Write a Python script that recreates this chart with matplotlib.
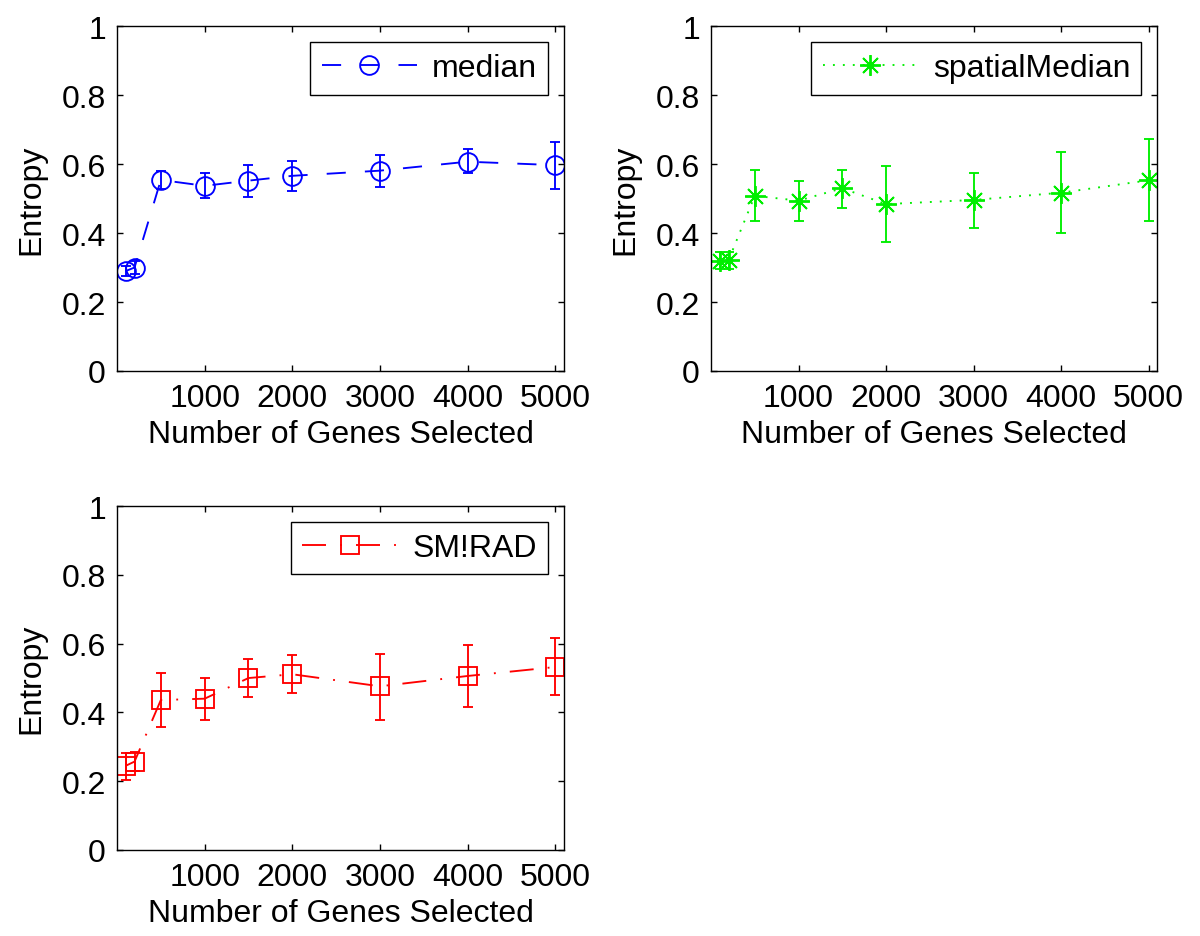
import matplotlib
matplotlib.use('Agg')
import matplotlib.pyplot as plt
from matplotlib.lines import Line2D

plt.rcParams['font.family'] = ['Liberation Sans', 'DejaVu Sans']
plt.rcParams['font.size'] = 23

genes = [100, 200, 500, 1000, 1500, 2000, 3000, 4000, 5000]

median_y = [0.290, 0.300, 0.554, 0.537, 0.552, 0.566, 0.581, 0.607, 0.597]
median_hi = [0.305, 0.318, 0.581, 0.573, 0.597, 0.610, 0.627, 0.644, 0.665]
median_lo = [0.275, 0.282, 0.528, 0.501, 0.506, 0.521, 0.534, 0.574, 0.528]

spatial_y = [0.318, 0.321, 0.508, 0.494, 0.530, 0.484, 0.496, 0.517, 0.553]
spatial_hi = [0.344, 0.346, 0.583, 0.552, 0.584, 0.595, 0.575, 0.634, 0.673]
spatial_lo = [0.295, 0.296, 0.436, 0.436, 0.474, 0.375, 0.414, 0.400, 0.436]

smirad_y = [0.245, 0.257, 0.436, 0.440, 0.500, 0.511, 0.476, 0.506, 0.532]
smirad_hi = [0.281, 0.284, 0.515, 0.500, 0.556, 0.566, 0.569, 0.596, 0.615]
smirad_lo = [0.204, 0.231, 0.357, 0.378, 0.444, 0.457, 0.379, 0.417, 0.450]

x_ticks = [1000, 2000, 3000, 4000, 5000]
y_ticks = [0, 0.2, 0.4, 0.6, 0.8, 1]
y_ticklabels = ['0', '0.2', '0.4', '0.6', '0.8', '1']

lw = 1.35
dashed = (0, (10.2, 10.2))
dotted = (0, (1.0, 4.3))
dashdot = (0, (12.8, 7.5, 1.0, 7.5))

fig = plt.figure(figsize=(12, 9.37), dpi=100)

panels = [
    ([0.0975, 0.603, 0.3725, 0.368], median_y, median_lo, median_hi,
     'blue', dashed, 'o', 13.5, 'median'),
    ([0.5925, 0.603, 0.372, 0.368], spatial_y, spatial_lo, spatial_hi,
     '#00ee00', dotted, (8, 2, 0), 15, 'spatialMedian'),
    ([0.0975, 0.0918, 0.3725, 0.367], smirad_y, smirad_lo, smirad_hi,
     'red', dashdot, 's', 12.5, 'SM!RAD'),
]

for pos, y, lo, hi, col, ls, mk, ms, name in panels:
    ax = fig.add_axes(pos)
    err = [[v - l for v, l in zip(y, lo)], [h - v for v, h in zip(y, hi)]]
    ax.errorbar(genes, y, yerr=err, color=col, ls=ls, lw=lw, marker=mk,
                ms=ms, mfc='none', mec=col, mew=lw, elinewidth=lw,
                capsize=3.4, capthick=lw)
    ax.set_xlim(0, 5100)
    ax.set_ylim(0, 1)
    ax.set_xticks(x_ticks)
    ax.set_yticks(y_ticks)
    ax.set_yticklabels(y_ticklabels)
    ax.tick_params(direction='in', top=True, right=True, length=4, width=1)
    ax.tick_params(axis='x', pad=9)
    ax.tick_params(axis='y', pad=8)
    for s in ax.spines.values():
        s.set_linewidth(1.0)
    ax.set_xlabel('Number of Genes Selected', labelpad=4)
    ax.set_ylabel('Entropy', labelpad=11)
    h = Line2D([], [], color=col, ls=ls, lw=lw, marker=mk, ms=ms,
               mfc='none', mec=col, mew=lw)
    leg = ax.legend([h], [name], loc='upper right', handlelength=3,
                    handletextpad=0.45, borderpad=0.35, fancybox=False,
                    framealpha=1, edgecolor='black')
    leg.get_frame().set_linewidth(1.0)

fig.savefig('out.png', dpi=100)
